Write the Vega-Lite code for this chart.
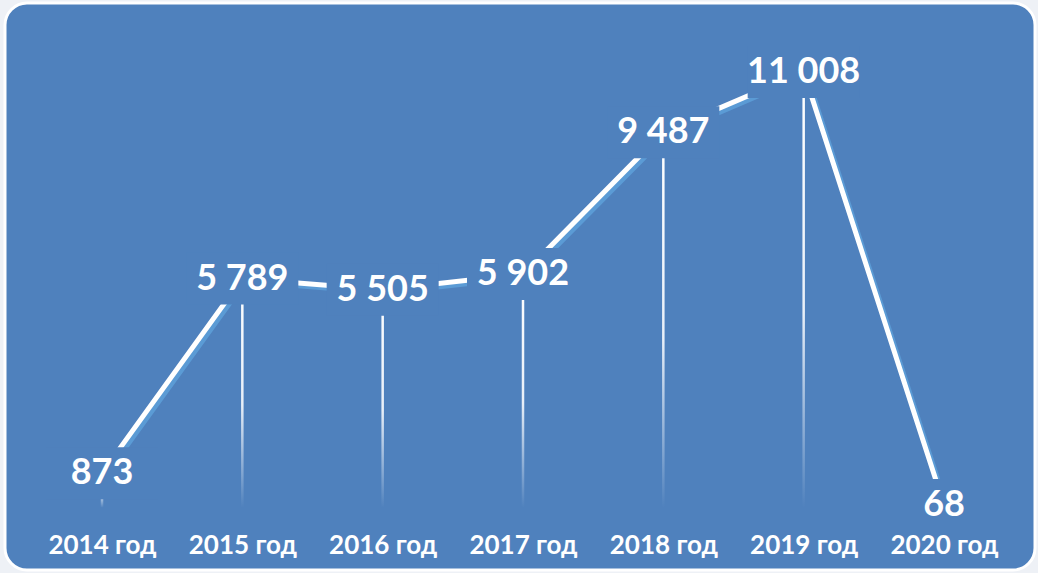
{
  "$schema": "https://vega.github.io/schema/vega-lite/v6.json",
  "width": 1030,
  "height": 567,
  "autosize": {"type": "none"},
  "padding": {"left": 5, "top": 3, "right": 3, "bottom": 3},
  "background": "#eef1f6",
  "config": {
    "view": {"fill": "#4F81BD", "stroke": "#ffffff", "strokeWidth": 3, "cornerRadius": 22},
    "font": "Lato"
  },
  "data": {
    "values": [
      {"year": "2014 год", "value": 873, "label": "873"},
      {"year": "2015 год", "value": 5789, "label": "5 789"},
      {"year": "2016 год", "value": 5505, "label": "5 505"},
      {"year": "2017 год", "value": 5902, "label": "5 902"},
      {"year": "2018 год", "value": 9487, "label": "9 487"},
      {"year": "2019 год", "value": 11008, "label": "11 008"},
      {"year": "2020 год", "value": 68, "label": "68"}
    ]
  },
  "encoding": {
    "x": {
      "field": "year",
      "type": "ordinal",
      "sort": null,
      "scale": {"type": "point", "padding": 0, "range": [97, 939]},
      "axis": {
        "title": null,
        "domain": false,
        "ticks": false,
        "grid": false,
        "labelAngle": 0,
        "labelColor": "#ffffff",
        "labelFont": "Lato",
        "labelFontWeight": "bold",
        "labelFontSize": 26,
        "labelBaseline": "middle",
        "labelPadding": -25
      }
    },
    "y": {
      "field": "value",
      "type": "quantitative",
      "scale": {"domain": [-1574, 12751], "nice": false, "zero": false},
      "axis": null
    }
  },
  "layer": [
    {
      "mark": {
        "type": "bar",
        "size": 2.5,
        "color": {
          "gradient": "linear",
          "x1": 0, "y1": 0, "x2": 0, "y2": 1,
          "stops": [
            {"offset": 0, "color": "#ffffff"},
            {"offset": 0.55, "color": "#e8eff8"},
            {"offset": 1, "color": "#4F81BD"}
          ]
        }
      },
      "encoding": {"y2": {"datum": 0}}
    },
    {
      "mark": {"type": "line", "color": "#5B9BD5", "strokeWidth": 5, "xOffset": 3, "yOffset": 3}
    },
    {
      "mark": {"type": "line", "color": "#ffffff", "strokeWidth": 5}
    },
    {
      "mark": {"type": "tick", "color": "#4F81BD", "opacity": 1, "size": 112, "thickness": 52}
    },
    {
      "mark": {"type": "text", "color": "#ffffff", "fontWeight": "bold", "fontSize": 36, "font": "Lato", "baseline": "middle", "align": "center"},
      "encoding": {"text": {"field": "label"}}
    }
  ]
}
